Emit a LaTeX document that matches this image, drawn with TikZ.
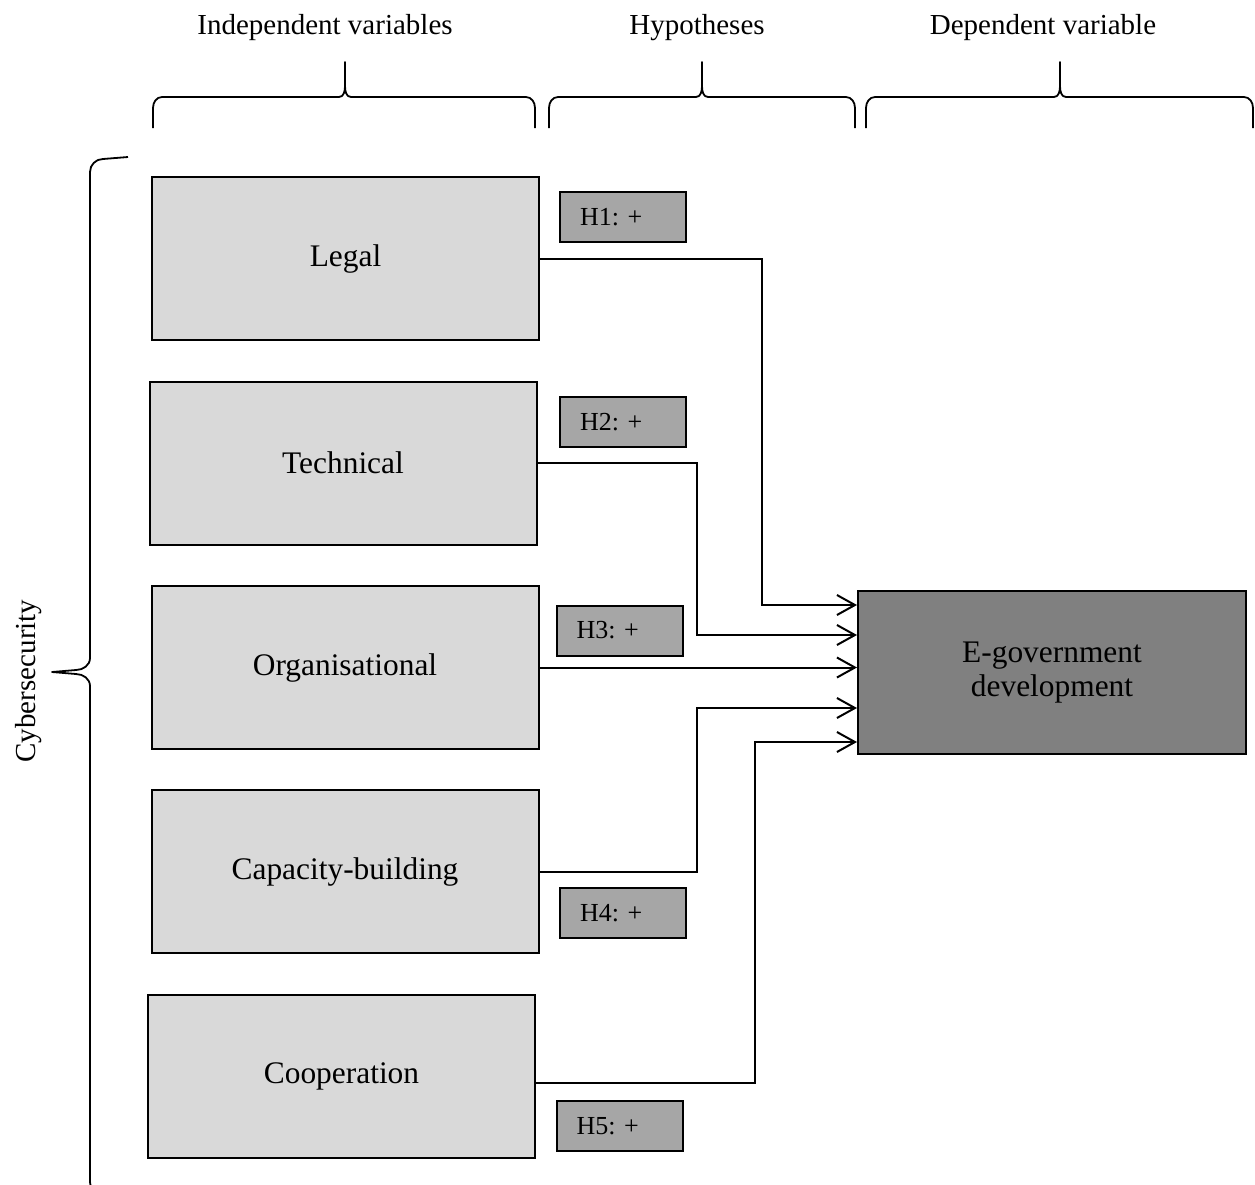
\documentclass[tikz,border=0pt]{standalone}
\usepackage{fontspec}
\setmainfont{Liberation Serif}
\usepackage{tikz}
\usetikzlibrary{positioning,arrows.meta}
\definecolor{boxgray}{HTML}{D9D9D9}
\definecolor{hypgray}{HTML}{A6A6A6}
\definecolor{depgray}{HTML}{808080}
\newcommand{\colbrace}[3]{\draw[bracestyle] (#1,128) -- (#1,108) to[out=90,in=180] (#1+9,97) -- (#2-6,97) to[out=0,in=-90] (#2,86) -- (#2,62) -- (#2,86) to[out=-90,in=180] (#2+6,97) -- (#3-9,97) to[out=0,in=90] (#3,108) -- (#3,128);}

\begin{document}
\begin{tikzpicture}[x=0.5pt,y=-0.5pt]
\tikzstyle{indep}=[rectangle, draw=black, line width=1pt, fill=boxgray, minimum width=193.5pt, minimum height=81.5pt, inner sep=0pt, font=\fontsize{15.7}{19}\selectfont]
\tikzstyle{hyp}=[rectangle, draw=black, line width=1pt, fill=hypgray, text width=43pt, minimum height=25pt, inner xsep=10pt, inner ysep=0pt, align=left, font=\fontsize{13}{15}\selectfont\frenchspacing]
\tikzstyle{dep}=[rectangle, draw=black, line width=1pt, fill=depgray, minimum width=194pt, minimum height=81.5pt, align=center, font=\fontsize{15.7}{17}\selectfont]
\tikzstyle{head}=[inner sep=0pt, font=\fontsize{14.5}{17}\selectfont]
\tikzstyle{conn}=[-{Straight Barb[length=9pt,width=10pt]}, line width=1pt]
\tikzstyle{bracestyle}=[line width=0.9pt, line join=round]
\useasboundingbox (0,0) rectangle (1255,1185);

\node[head] (h_indep) at (325,28) {Independent variables};
\node[head] (h_hyp) at (697,28) {Hypotheses};
\node[head] (h_dep) at (1043,28) {Dependent variable};
\colbrace{153}{345}{535}
\colbrace{549}{702}{855}
\colbrace{866}{1060}{1253}

% cybersecurity brace
\draw[bracestyle] (128,157) -- (103,159) to[out=180,in=90] (90,172) -- (90,658) to[out=-90,in=0] (76,670) -- (52,672) -- (76,674) to[out=0,in=90] (90,686) -- (90,1182) to[out=-90,in=180] (100,1194);
\node[head, rotate=90] (cyber) at (29,681) {Cybersecurity};

\node[indep] (legal) at (345.5,258.5) {Legal};
\node[indep] (tech) at (343,463) {Technical};
\node[indep] (org) at (345,667.5) {Organisational};
\node[indep] (cap) at (345,871.5) {Capacity-building};
\node[indep] (coop) at (341.5,1076) {Cooperation};

\node[hyp] (h_1) at (623,217) {H1: +};
\node[hyp] (h_2) at (623,422) {H2: +};
\node[hyp] (h_3) at (619.5,630.5) {H3: +};
\node[hyp] (h_4) at (623,913) {H4: +};
\node[hyp] (h_5) at (619.5,1126) {H5: +};

\node[dep] (egov) at (1052,672.5) {E-government\\development};

\draw[conn] (legal.east) -| (762,605) -- (egov.west |- 762,605);
\draw[conn] (tech.east) -| (697,635) -- (egov.west |- 697,635);
\draw[conn] (org.east) -- (org.east -| egov.west);
\draw[conn] (cap.east) -| (697,708) -- (egov.west |- 697,708);
\draw[conn] ([yshift=-3.5pt]coop.east) -| (755,742) -- (egov.west |- 755,742);

\end{tikzpicture}
\end{document}
